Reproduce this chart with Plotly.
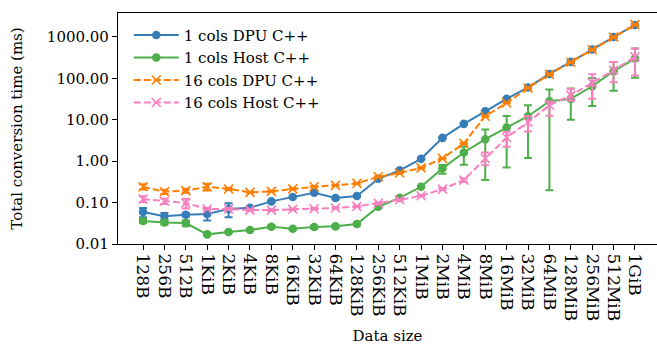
import plotly.graph_objects as go

sizes = ["128B", "256B", "512B", "1KiB", "2KiB", "4KiB", "8KiB", "16KiB", "32KiB", "64KiB",
         "128KiB", "256KiB", "512KiB", "1MiB", "2MiB", "4MiB", "8MiB", "16MiB", "32MiB",
         "64MiB", "128MiB", "256MiB", "512MiB", "1GiB"]

dpu1 = [0.059, 0.047, 0.051, 0.053, 0.070, 0.075, 0.107, 0.136, 0.173, 0.129, 0.144, 0.376,
        0.60, 1.14, 3.66, 7.98, 16.1, 32.0, 60.3, 128, 250, 497, 1000, 1950]
dpu1_plus = [0.015, 0.009, 0.005, 0.016, 0.026, 0.003, 0.004, 0.004, 0.005, 0.004, 0.004, 0.01,
             0.02, 0.03, 0.1, 0.2, 0.4, 0.6, 1, 2, 4, 8, 15, 30]
dpu1_minus = dpu1_plus

host1 = [0.036, 0.033, 0.032, 0.0171, 0.0195, 0.0218, 0.0262, 0.0234, 0.0257, 0.0267, 0.0304,
         0.0794, 0.13, 0.241, 0.67, 1.62, 3.4, 6.5, 12.2, 28.0, 32.0, 64.6, 149, 301]
host1_plus = [0.004, 0.004, 0.005, 0.001, 0.001, 0.001, 0.002, 0.001, 0.002, 0.002, 0.002,
              0.004, 0.006, 0.01, 0.14, 0.65, 2.4, 5.8, 10.3, 25.6, 25, 38, 100, 228]
host1_minus = [0.004, 0.004, 0.005, 0.001, 0.001, 0.001, 0.002, 0.001, 0.002, 0.002, 0.002,
               0.004, 0.006, 0.01, 0.17, 0.8, 3.05, 5.8, 11.0, 27.8, 22, 43, 99, 198]

dpu16 = [0.241, 0.183, 0.195, 0.241, 0.213, 0.177, 0.187, 0.215, 0.241, 0.26, 0.291, 0.42,
         0.52, 0.69, 1.17, 2.69, 12.2, 25.6, 58.5, 125, 245, 490, 990, 1980]
dpu16_plus = [0.035, 0.022, 0.022, 0.045, 0.012, 0.005, 0.005, 0.006, 0.006, 0.006, 0.006, 0.01,
              0.01, 0.02, 0.03, 0.08, 0.4, 0.6, 1.2, 2, 4, 8, 15, 30]
dpu16_minus = dpu16_plus

host16 = [0.122, 0.108, 0.098, 0.070, 0.070, 0.066, 0.066, 0.069, 0.071, 0.074, 0.081, 0.096,
          0.117, 0.146, 0.211, 0.35, 1.17, 3.74, 8.7, 22.5, 39, 78, 157, 330]
host16_plus = [0.02, 0.015, 0.026, 0.004, 0.004, 0.003, 0.003, 0.003, 0.003, 0.003, 0.003, 0.004,
               0.005, 0.006, 0.01, 0.03, 0.45, 1.4, 3.5, 5, 17, 47, 93, 200]
host16_minus = [0.02, 0.015, 0.026, 0.004, 0.004, 0.003, 0.003, 0.003, 0.003, 0.003, 0.003, 0.004,
                0.005, 0.006, 0.01, 0.03, 0.37, 1.5, 3.5, 10, 10, 46, 76, 212]

y_tickvals = [0.01, 0.1, 1, 10, 100, 1000]
y_ticktext = ["0.01", "0.10", "1.00", "10.00", "100.00", "1000.00"]

series = [
    ("1 cols DPU C++", dpu1, dpu1_plus, dpu1_minus, "#377eb8", "solid", "circle", 7),
    ("1 cols Host C++", host1, host1_plus, host1_minus, "#4daf4a", "solid", "circle", 7),
    ("16 cols DPU C++", dpu16, dpu16_plus, dpu16_minus, "#ff7f00", "7px,3px", "x-thin-open", 9),
    ("16 cols Host C++", host16, host16_plus, host16_minus, "#f781bf", "7px,3px", "x-thin-open", 9),
]

fig = go.Figure()
for name, vals, ep, em, color, dash, sym, msize in series:
    fig.add_trace(go.Scatter(
        x=sizes, y=vals, name=name, mode="lines+markers",
        line=dict(color=color, width=2, dash=dash),
        marker=dict(symbol=sym, size=msize, color=color, line=dict(color=color, width=1.6)),
        error_y=dict(type="data", symmetric=False, array=ep, arrayminus=em,
                     color=color, thickness=2, width=4),
    ))

font_family = "DejaVu Serif, Liberation Serif, serif"
fig.update_layout(
    width=657, height=345,
    margin=dict(l=118, r=0, t=13, b=101),
    paper_bgcolor="white", plot_bgcolor="white",
    font=dict(family=font_family, size=15, color="black"),
    showlegend=True,
    legend=dict(x=0.02, y=0.975, xanchor="left", yanchor="top",
                bgcolor="rgba(255,255,255,0.8)", borderwidth=0, itemwidth=45,
                font=dict(family=font_family, size=15), tracegroupgap=0),
    xaxis=dict(
        type="category", range=[-1.17, 24.03], automargin=False,
        tickangle=90, ticks="outside", ticklen=5, tickwidth=1, tickcolor="black",
        showline=True, linecolor="black", linewidth=1.2, mirror=True,
        showgrid=False, zeroline=False,
        title=dict(text="Data size", font=dict(size=15), standoff=10),
        tickfont=dict(size=17),
    ),
    yaxis=dict(
        type="log", range=[-2, 3.579], automargin=False,
        tickvals=y_tickvals, ticktext=y_ticktext,
        ticks="outside", ticklen=5, tickwidth=1, tickcolor="black",
        showline=True, linecolor="black", linewidth=1.2, mirror=False,
        showgrid=False, zeroline=False,
        title=dict(text="Total conversion time (ms)", font=dict(size=15), standoff=20),
        tickfont=dict(size=15),
    ),
)

fig.write_html("out.html")
